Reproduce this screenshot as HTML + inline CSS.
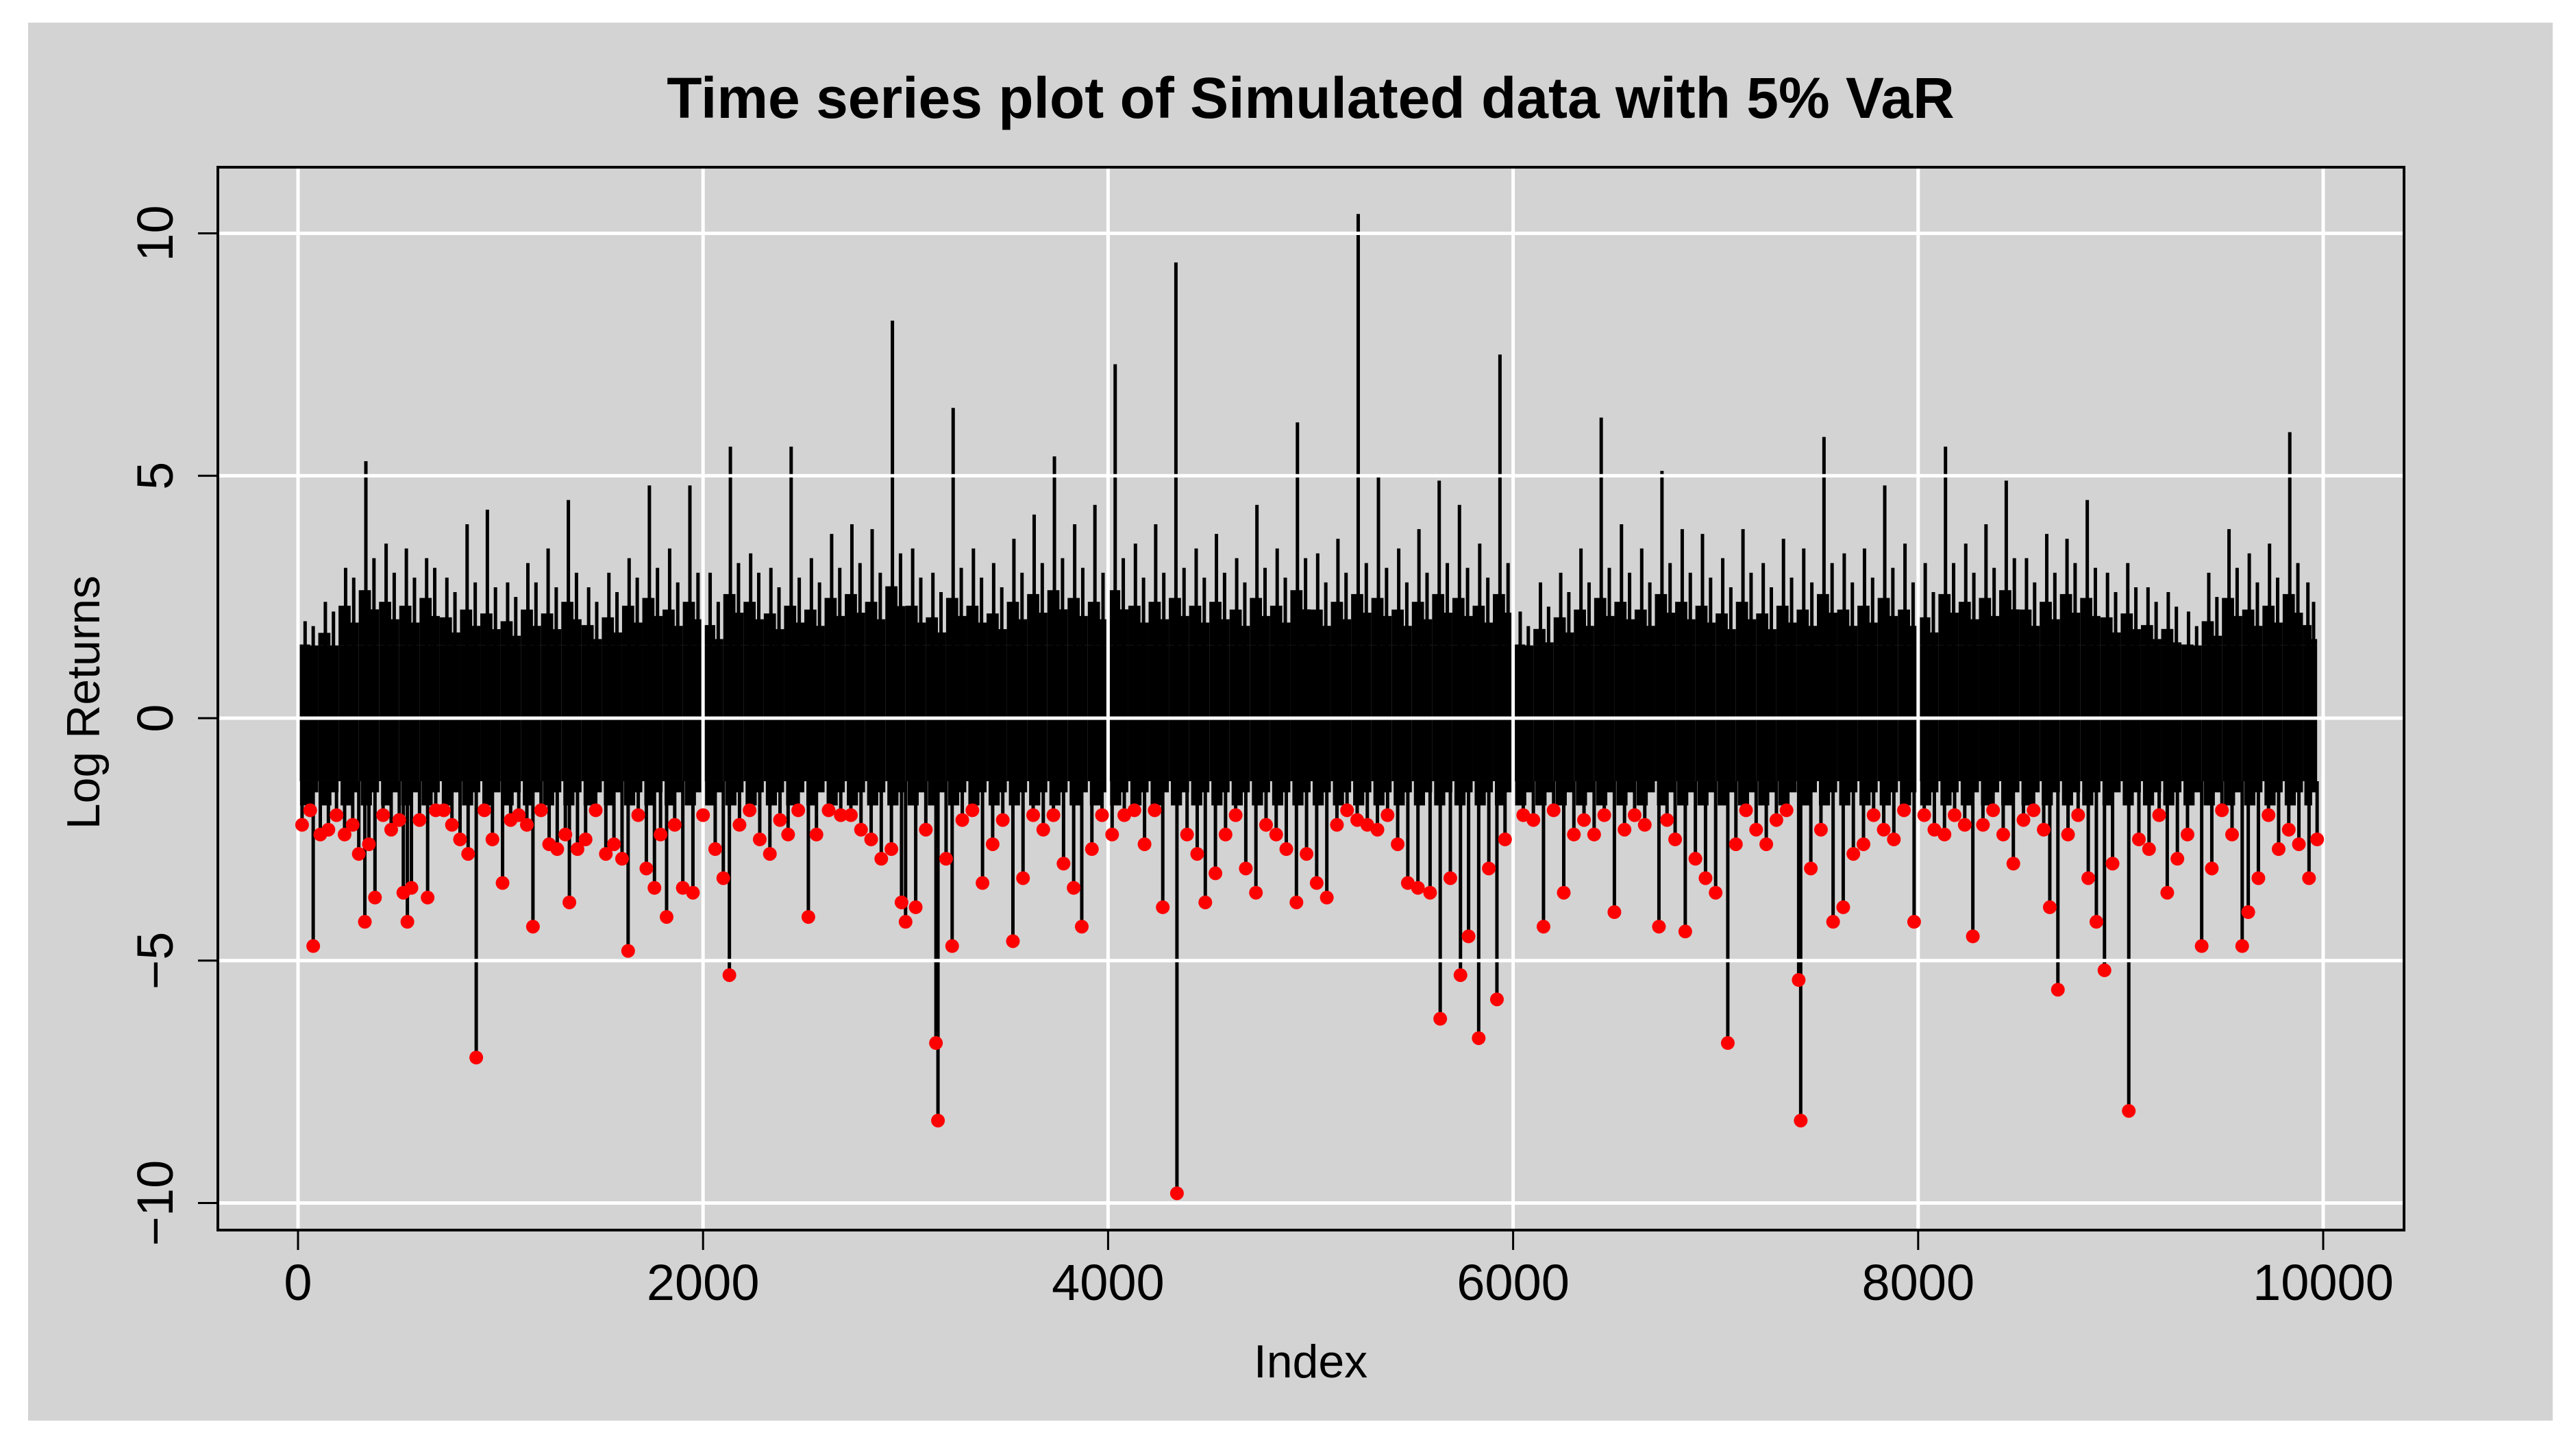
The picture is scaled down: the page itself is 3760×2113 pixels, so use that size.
<!DOCTYPE html>
<html><head><meta charset="utf-8"><style>
html,body{margin:0;padding:0;background:#fff;}
svg{display:block;}
text{font-family:"Liberation Sans",Arial,sans-serif;}
</style></head>
<body>
<svg id="chart" width="3760" height="2113" viewBox="0 0 3760 2113" xmlns="http://www.w3.org/2000/svg">
<rect x="0" y="0" width="3760" height="2113" fill="#ffffff"/>
<rect x="41" y="33" width="3685" height="2040" fill="#d3d3d3"/>
<g id="data-layer"></g>
<g id="grid-layer"></g>
<g id="red-layer"></g>
<rect x="318" y="244" width="3191" height="1551" fill="none" stroke="#000" stroke-width="4"/>
<g id="axis-layer"></g>
<text x="1913" y="172" text-anchor="middle" font-size="84" font-weight="bold">Time series plot of Simulated data with 5% VaR</text>
<text x="1913" y="2010" text-anchor="middle" font-size="68">Index</text>
<text x="145" y="1025" text-anchor="middle" font-size="68" transform="rotate(-90 145 1025)">Log Returns</text>
</svg>
<script>
const binSize = 100;
const binMax = [2.0,2.4,3.1,5.3,3.6,3.5,3.3,2.9,4.0,4.3,
2.8,3.2,3.5,4.5,2.7,3.0,3.3,4.8,3.5,4.8,
3.0,5.6,3.4,3.1,5.6,3.3,3.8,4.0,3.9,8.2,
3.5,3.0,6.4,3.5,3.2,3.7,4.2,5.4,4.0,4.4,
7.3,3.6,4.0,9.4,3.5,3.8,3.3,4.4,3.5,6.1,
3.4,3.7,10.4,5.0,3.5,3.9,4.9,4.4,3.6,7.5,
2.2,2.8,3.0,3.5,6.2,4.0,3.5,5.1,3.9,3.8,
3.3,3.9,3.2,3.7,3.5,5.8,3.4,3.5,4.8,3.6,
3.2,5.6,3.6,4.0,4.9,3.3,3.8,3.7,4.5,3.0,
3.2,2.7,2.6,2.2,3.0,3.9,3.4,3.6,5.9,2.8];
const binSecond = [1.9,2.2,2.9,3.3,3.0,2.9,3.1,2.6,2.8,2.7,
2.5,2.8,2.7,3.0,2.4,2.6,2.9,3.1,2.8,3.0,
2.4,3.2,3.0,2.7,2.9,2.8,3.1,3.2,3.0,3.4,
2.9,2.6,3.1,2.9,2.7,3.0,3.2,3.3,3.1,3.0,
3.3,2.9,3.0,3.1,2.9,3.0,2.8,3.1,2.9,3.3,
2.8,3.0,3.2,3.1,2.8,3.0,3.2,3.1,2.9,3.2,
1.9,2.3,2.6,2.8,3.1,3.0,2.8,3.2,3.0,2.9,
2.7,3.0,2.7,2.9,2.8,3.2,2.8,2.9,3.1,2.8,
2.6,3.2,3.0,3.1,3.3,2.8,3.0,3.2,3.1,2.6,
2.7,2.4,2.3,1.9,2.5,3.1,2.8,2.9,3.2,2.4];
const bandTop = 1.5;
const bandBottom = -1.3;
const binMin = -1.8;
const varBreaches = [[20,-2.2],[60,-1.9],[75,-4.7],[110,-2.4],[150,-2.3],[190,-2.0],[230,-2.4],[270,-2.2],[300,-2.8],[330,-4.2],[350,-2.6],[380,-3.7],[420,-2.0],[460,-2.3],[500,-2.1],[520,-3.6],[540,-4.2],[560,-3.5],[600,-2.1],[640,-3.7],[680,-1.9],[720,-1.9],[760,-2.2],[800,-2.5],[840,-2.8],[880,-7.0],[920,-1.9],[960,-2.5],[1010,-3.4],[1050,-2.1],[1090,-2.0],[1130,-2.2],[1160,-4.3],[1200,-1.9],[1240,-2.6],[1280,-2.7],[1320,-2.4],[1340,-3.8],[1380,-2.7],[1420,-2.5],[1470,-1.9],[1520,-2.8],[1560,-2.6],[1600,-2.9],[1630,-4.8],[1680,-2.0],[1720,-3.1],[1760,-3.5],[1790,-2.4],[1820,-4.1],[1860,-2.2],[1900,-3.5],[1950,-3.6],[2000,-2.0],[2060,-2.7],[2100,-3.3],[2130,-5.3],[2180,-2.2],[2230,-1.9],[2280,-2.5],[2330,-2.8],[2380,-2.1],[2420,-2.4],[2470,-1.9],[2520,-4.1],[2560,-2.4],[2620,-1.9],[2680,-2.0],[2730,-2.0],[2780,-2.3],[2830,-2.5],[2880,-2.9],[2930,-2.7],[2980,-3.8],[3000,-4.2],[3050,-3.9],[3100,-2.3],[3150,-6.7],[3160,-8.3],[3200,-2.9],[3230,-4.7],[3280,-2.1],[3330,-1.9],[3380,-3.4],[3430,-2.6],[3480,-2.1],[3530,-4.6],[3580,-3.3],[3630,-2.0],[3680,-2.3],[3730,-2.0],[3780,-3.0],[3830,-3.5],[3870,-4.3],[3920,-2.7],[3970,-2.0],[4020,-2.4],[4080,-2.0],[4130,-1.9],[4180,-2.6],[4230,-1.9],[4270,-3.9],[4340,-9.8],[4390,-2.4],[4440,-2.8],[4480,-3.8],[4530,-3.2],[4580,-2.4],[4630,-2.0],[4680,-3.1],[4730,-3.6],[4780,-2.2],[4830,-2.4],[4880,-2.7],[4930,-3.8],[4980,-2.8],[5030,-3.4],[5080,-3.7],[5130,-2.2],[5180,-1.9],[5230,-2.1],[5280,-2.2],[5330,-2.3],[5380,-2.0],[5430,-2.6],[5480,-3.4],[5530,-3.5],[5590,-3.6],[5640,-6.2],[5690,-3.3],[5740,-5.3],[5780,-4.5],[5830,-6.6],[5880,-3.1],[5920,-5.8],[5960,-2.5],[6050,-2.0],[6100,-2.1],[6150,-4.3],[6200,-1.9],[6250,-3.6],[6300,-2.4],[6350,-2.1],[6400,-2.4],[6450,-2.0],[6500,-4.0],[6550,-2.3],[6600,-2.0],[6650,-2.2],[6720,-4.3],[6760,-2.1],[6800,-2.5],[6850,-4.4],[6900,-2.9],[6950,-3.3],[7000,-3.6],[7060,-6.7],[7100,-2.6],[7150,-1.9],[7200,-2.3],[7250,-2.6],[7300,-2.1],[7350,-1.9],[7410,-5.4],[7420,-8.3],[7470,-3.1],[7520,-2.3],[7580,-4.2],[7630,-3.9],[7680,-2.8],[7730,-2.6],[7780,-2.0],[7830,-2.3],[7880,-2.5],[7930,-1.9],[7980,-4.2],[8030,-2.0],[8080,-2.3],[8130,-2.4],[8180,-2.0],[8230,-2.2],[8270,-4.5],[8320,-2.2],[8370,-1.9],[8420,-2.4],[8470,-3.0],[8520,-2.1],[8570,-1.9],[8620,-2.3],[8650,-3.9],[8690,-5.6],[8740,-2.4],[8790,-2.0],[8840,-3.3],[8880,-4.2],[8920,-5.2],[8960,-3.0],[9040,-8.1],[9090,-2.5],[9140,-2.7],[9190,-2.0],[9230,-3.6],[9280,-2.9],[9330,-2.4],[9400,-4.7],[9450,-3.1],[9500,-1.9],[9550,-2.4],[9600,-4.7],[9630,-4.0],[9680,-3.3],[9730,-2.0],[9780,-2.7],[9830,-2.3],[9880,-2.6],[9930,-3.3],[9970,-2.5]];
const xTicks = [0,2000,4000,6000,8000,10000];
const xTickLabels = ["0","2000","4000","6000","8000","10000"];
const yTicks = [-10,-5,0,5,10];
const yTickLabels = ["\u221210","\u22125","0","5","10"];

const NS = "http://www.w3.org/2000/svg";
const X0 = 435, X1 = 3391, PL = 318, PR = 3509, PT = 244, PB = 1795;
const Y0 = 1048, YU = 70.75;
function sx(i){ return X0 + (i/10000)*(X1-X0); }
function sy(v){ return Y0 - v*YU; }
function mk(tag, attrs, parent){
  const e = document.createElementNS(NS, tag);
  for (const k in attrs) e.setAttribute(k, attrs[k]);
  parent.appendChild(e);
  return e;
}
const dataL = document.getElementById('data-layer');
const gridL = document.getElementById('grid-layer');
const redL = document.getElementById('red-layer');
const axisL = document.getElementById('axis-layer');

for (let b = 0; b < binMax.length; b++) {
  const xa = sx(b*binSize), xb = sx(Math.min((b+1)*binSize, 9970));
  const w = Math.max(0, xb-xa);
  const r = mk('rect', {x: xa, y: sy(bandTop), width: w, height: sy(bandBottom)-sy(bandTop), fill:'#000'}, dataL);
  
  
  const u1 = mk('rect', {x: xa, y: sy(binSecond[b]*0.8), width: w*0.6, height: sy(bandTop)-sy(binSecond[b]*0.8), fill:'#000'}, dataL);
  
  
  const u3 = mk('rect', {x: xa+w*0.55, y: sy(binSecond[b]*0.68), width: w*0.45, height: sy(bandTop)-sy(binSecond[b]*0.68), fill:'#000'}, dataL);
  
  
  const u2 = mk('line', {x1: xa+w*0.75, x2: xa+w*0.75, y1: sy(0), y2: sy(binSecond[b]), stroke:'#000', 'stroke-width': 5}, dataL);
  
  
  const l1 = mk('rect', {x: xa+w*0.1, y: sy(bandBottom), width: w*0.55, height: sy(binMin)-sy(bandBottom), fill:'#000'}, dataL);
  
  
  const l2 = mk('rect', {x: xa+w*0.6, y: sy(bandBottom), width: w*0.4, height: sy(binMin*0.85)-sy(bandBottom), fill:'#000'}, dataL);
  
  
  const xm = xa + w*0.35;
  const s = mk('line', {x1: xm, x2: xm, y1: sy(0), y2: sy(binMax[b]), stroke:'#000', 'stroke-width': 5}, dataL);
  
  
}
varBreaches.forEach(p => {
  const l = mk('line', {x1: sx(p[0]), x2: sx(p[0]), y1: sy(bandBottom), y2: sy(p[1]), stroke:'#000', 'stroke-width': 5}, dataL);
  
  
});
xTicks.forEach(t => {
  const g = mk('line', {x1: sx(t), x2: sx(t), y1: PT, y2: PB, stroke:'#fff', 'stroke-width': 5}, gridL);
  
  
});
yTicks.forEach(t => {
  const g = mk('line', {x1: PL, x2: PR, y1: sy(t), y2: sy(t), stroke:'#fff', 'stroke-width': 5}, gridL);
  
  
});
varBreaches.forEach(p => {
  const c = mk('circle', {cx: sx(p[0]), cy: sy(p[1]), r: 10, fill:'#ff0000'}, redL);
  
  
});
xTicks.forEach((t, i) => {
  const tk = mk('line', {x1: sx(t), x2: sx(t), y1: PB, y2: PB+29, stroke:'#000', 'stroke-width': 3}, axisL);
  
  
  const tx = mk('text', {x: sx(t), y: 1897, 'text-anchor':'middle', 'font-size': 74}, axisL);
  tx.textContent = xTickLabels[i];
  
  
});
yTicks.forEach((t, i) => {
  const tk = mk('line', {x1: PL-29, x2: PL, y1: sy(t), y2: sy(t), stroke:'#000', 'stroke-width': 3}, axisL);
  
  
  const tx = mk('text', {x: 252, y: sy(t), 'text-anchor':'middle', 'font-size': 74, transform: 'rotate(-90 252 ' + sy(t) + ')'}, axisL);
  tx.textContent = yTickLabels[i];
  
  
});
</script>
</body></html>
